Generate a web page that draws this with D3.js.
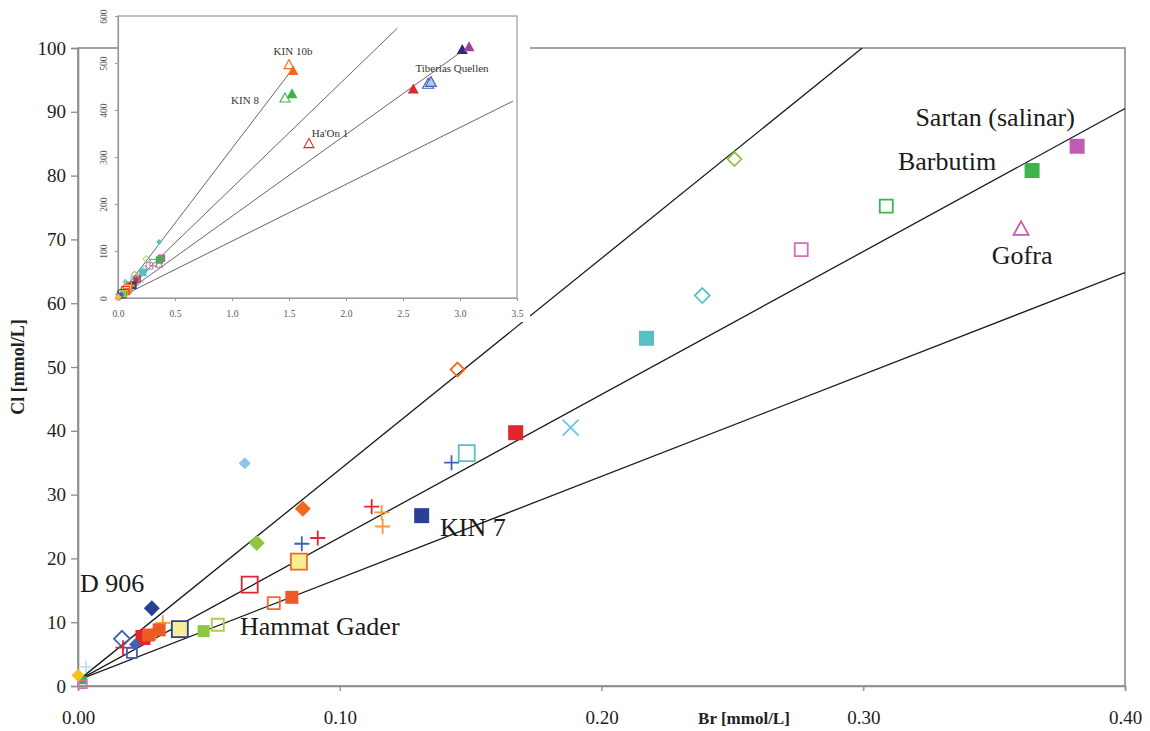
<!DOCTYPE html>
<html>
<head>
<meta charset="utf-8">
<script src="https://cdn.jsdelivr.net/npm/d3@7"></script>
<style>
  html, body { margin: 0; padding: 0; background: #fff; }
  svg { display: block; }
</style>
</head>
<body>
<svg id="chart" width="1150" height="731"></svg>
<script>
// ---------------- DATA (Br, Cl in mmol/L) ----------------
// main plot series
const ygOpenDiamond   = [[0.2508, 82.6]];
const orOpenDiamond   = [[0.145, 49.6]];
const lbDiamond       = [[0.0637, 34.9]];
const orDiamond       = [[0.0859, 27.8]];
const ygDiamond       = [[0.0683, 22.4]];
const d906            = [[0.0282, 12.2]];
const blOpenDiamond   = [[0.0168, 7.4]];
const tlOpenDiamond   = [[0.2385, 61.2]];
const sartan          = [[0.3817, 84.6]];
const barbutim        = [[0.3645, 80.8]];
const grOpenSquare    = [[0.3088, 75.2]];
const gofra           = [[0.3603, 71.6]];
const pkOpenSquare    = [[0.2763, 68.4]];
const tlSquare        = [[0.2172, 54.5]];
const lbCross         = [[0.1882, 40.5]];
const rdSquare        = [[0.1672, 39.7], [0.0248, 7.6]];
const tlOpenSquare    = [[0.1485, 36.5]];
const blPlus          = [[0.1427, 35.0], [0.0855, 22.3]];
const kin7            = [[0.1313, 26.7]];
const rdPlus          = [[0.1122, 28.1], [0.0916, 23.2], [0.0172, 6.0]];
const orPlus          = [[0.116, 27.2], [0.1164, 25.0], [0.0324, 9.9], [0.0295, 8.4]];
const yOrSquare       = [[0.0844, 19.5]];
const rdOpenSquare    = [[0.0656, 15.9]];
const orOpenSquare    = [[0.0748, 13.0]];
const orSquare        = [[0.0817, 13.9], [0.027, 8.0], [0.031, 8.8]];
const yBlSquare       = [[0.0389, 8.9]];
const hammatGader     = [[0.048, 8.6]];
const ygOpenSquare    = [[0.0534, 9.6]];
const blOpenSqSmall   = [[0.0206, 5.2]];
const blDiamondSmall  = [[0.0218, 6.5]];
const goldDiamond     = [[0.0, 1.7]];
const grSmallSquare   = [[0.002, 0.9]];
const pkOpenSmall     = [[0.0018, 0.3]];
const palePlus        = [[0.003, 3.0]];

// inset-only series
const kin10bOpen      = [[1.50, 496]];
const kin10b          = [[1.535, 483]];
const kin8Open        = [[1.465, 425]];
const kin8            = [[1.526, 434]];
const haOn1           = [[1.675, 328]];
const rdTriangle      = [[2.59, 444]];
const tiberiasOpen    = [[2.72, 455]];
const tiberiasLight   = [[2.745, 459]];
const navyTriangle    = [[3.02, 528]];
const purpleTriangle  = [[3.08, 534]];
const tlDiamondInset  = [[0.36, 119]];

// reference lines (end points)
const mainLines  = [[[0.0005, 1.0], [0.2996, 100]], [[0.0005, 1.0], [0.40, 90.5]], [[0.0005, 1.0], [0.40, 64.8]]];
const insetLines = [[[0, 0], [1.53, 487]], [[0, 0], [2.45, 574]], [[0, 0], [3.03, 527]], [[0, 0], [3.465, 419]]];

// ticks
const mainXTicks  = [0, 0.1, 0.2, 0.3, 0.4];
const mainYTicks  = [0, 10, 20, 30, 40, 50, 60, 70, 80, 90, 100];
const insetXTicks = [0, 0.5, 1.0, 1.5, 2.0, 2.5, 3.0, 3.5];
const insetYTicks = [0, 100, 200, 300, 400, 500, 600];

// annotations
const mainLabels = [
  { text: "Sartan (salinar)", br: 0.3504, cl: 89.2, anchor: "middle" },
  { text: "Barbutim",         br: 0.332,  cl: 82.3, anchor: "middle" },
  { text: "Gofra",            br: 0.3607, cl: 67.5, anchor: "middle" },
  { text: "KIN 7",            br: 0.1383, cl: 25.0, anchor: "start" },
  { text: "D 906",            br: 0.0008, cl: 16.2, anchor: "start" },
  { text: "Hammat Gader",     br: 0.0619, cl: 9.4,  anchor: "start" }
];
const insetLabels = [
  { text: "KIN 10b",          br: 1.535, cl: 525 },
  { text: "KIN 8",            br: 1.114, cl: 421 },
  { text: "Ha'On 1",          br: 1.86,  cl: 351 },
  { text: "Tiberias Quellen", br: 2.93,  cl: 489 }
];

// ---------------- STYLES ----------------
const C = {
  yg: "#8dc63f", ygl: "#a9cf4a", or: "#f26a22", orl: "#f59a3c", lb: "#8cc4ea", db: "#2b3f93",
  bl: "#3d63b5", tl: "#56c0c6", mg: "#c25cb0", pk: "#d06fbc", gr: "#3db54a", rd: "#e3262d",
  yl: "#f7ee97", gold: "#f6c31c", pale: "#b9dff2", navy: "#2b2a7a", pur: "#a2419a"
};
const mainSeries = [
  { d: ygOpenDiamond,  s: "diamond",  c: C.yg,  f: false, z: 14 },
  { d: orOpenDiamond,  s: "diamond",  c: C.or,  f: false, z: 14 },
  { d: lbDiamond,      s: "diamond",  c: C.lb,  f: true,  z: 12 },
  { d: orDiamond,      s: "diamond",  c: C.or,  f: true,  z: 16 },
  { d: ygDiamond,      s: "diamond",  c: C.yg,  f: true,  z: 16 },
  { d: d906,           s: "diamond",  c: C.db,  f: true,  z: 16 },
  { d: blOpenDiamond,  s: "diamond",  c: C.bl,  f: false, z: 16 },
  { d: tlOpenDiamond,  s: "diamond",  c: C.tl,  f: false, z: 15 },
  { d: sartan,         s: "square",   c: C.mg,  f: true,  z: 15 },
  { d: barbutim,       s: "square",   c: C.gr,  f: true,  z: 15 },
  { d: grOpenSquare,   s: "square",   c: C.gr,  f: false, z: 13 },
  { d: gofra,          s: "triangle", c: C.mg,  f: false, z: 15 },
  { d: pkOpenSquare,   s: "square",   c: C.pk,  f: false, z: 13 },
  { d: tlSquare,       s: "square",   c: C.tl,  f: true,  z: 15 },
  { d: lbCross,        s: "cross",    c: "#6fc3e8", f: false, z: 16 },
  { d: rdSquare,       s: "square",   c: C.rd,  f: true,  z: 15 },
  { d: tlOpenSquare,   s: "square",   c: C.tl,  f: false, z: 16 },
  { d: blPlus,         s: "plus",     c: C.bl,  f: false, z: 15 },
  { d: kin7,           s: "square",   c: C.db,  f: true,  z: 15 },
  { d: rdPlus,         s: "plus",     c: C.rd,  f: false, z: 15 },
  { d: orPlus,         s: "plus",     c: C.orl, f: false, z: 15 },
  { d: yOrSquare,      s: "square",   c: C.or,  f: C.yl,  z: 16 },
  { d: rdOpenSquare,   s: "square",   c: C.rd,  f: false, z: 16 },
  { d: orOpenSquare,   s: "square",   c: C.or,  f: false, z: 12 },
  { d: orSquare,       s: "square",   c: "#ee5a26", f: true, z: 13 },
  { d: yBlSquare,      s: "square",   c: C.db,  f: C.yl,  z: 16 },
  { d: hammatGader,    s: "square",   c: C.yg,  f: true,  z: 12 },
  { d: ygOpenSquare,   s: "square",   c: C.ygl, f: false, z: 12 },
  { d: blOpenSqSmall,  s: "square",   c: C.bl,  f: false, z: 10 },
  { d: blDiamondSmall, s: "diamond",  c: C.bl,  f: true,  z: 12 },
  { d: palePlus,       s: "plus",     c: C.pale, f: false, z: 12 },
  { d: grSmallSquare,  s: "square",   c: C.gr,  f: true,  z: 8 },
  { d: pkOpenSmall,    s: "square",   c: C.pk,  f: false, z: 8 },
  { d: goldDiamond,    s: "diamond",  c: C.gold, f: true, z: 13 }
];
const insetSeries = [
  { d: tlDiamondInset, s: "diamond",  c: C.tl,  f: true,  z: 6 },
  { d: kin10bOpen,     s: "triangle", c: C.or,  f: false, z: 10 },
  { d: kin10b,         s: "triangle", c: C.or,  f: true,  z: 11 },
  { d: kin8Open,       s: "triangle", c: C.gr,  f: false, z: 10 },
  { d: kin8,           s: "triangle", c: C.gr,  f: true,  z: 11 },
  { d: haOn1,          s: "triangle", c: C.rd,  f: false, z: 10 },
  { d: rdTriangle,     s: "triangle", c: C.rd,  f: true,  z: 11 },
  { d: tiberiasOpen,   s: "triangle", c: C.bl,  f: false, z: 11 },
  { d: tiberiasLight,  s: "triangle", c: C.bl,  f: "#a9c8ec", z: 11 },
  { d: navyTriangle,   s: "triangle", c: C.navy, f: true, z: 11 },
  { d: purpleTriangle, s: "triangle", c: C.pur, f: true,  z: 11 }
];

// ---------------- DRAW ----------------
const svg = d3.select("#chart");
const serif = "'Liberation Serif', 'Times New Roman', serif";
const axisGray = "#8d8d8d";

const x = d3.scaleLinear().domain([0, 0.4]).range([78, 1125]);
const y = d3.scaleLinear().domain([0, 100]).range([686, 48]);

function shapePath(s, cx, cy, z) {
  const h = z / 2;
  switch (s) {
    case "square":   return `M${cx-h},${cy-h}H${cx+h}V${cy+h}H${cx-h}Z`;
    case "diamond":  return `M${cx},${cy-h}L${cx+h},${cy}L${cx},${cy+h}L${cx-h},${cy}Z`;
    case "triangle": return `M${cx},${cy-h*1.05}L${cx+h},${cy+h*0.75}L${cx-h},${cy+h*0.75}Z`;
    case "plus":     return `M${cx-h},${cy}H${cx+h}M${cx},${cy-h}V${cy+h}`;
    case "cross":    return `M${cx-h},${cy-h}L${cx+h},${cy+h}M${cx+h},${cy-h}L${cx-h},${cy+h}`;
  }
}

function drawSeries(g, list, xs, ys, scale, sw) {
  list.forEach(ser => {
    const line = ser.s === "plus" || ser.s === "cross";
    g.selectAll(null).data(ser.d).enter().append("path")
      .attr("d", p => shapePath(ser.s, xs(p[0]), ys(p[1]), ser.z * scale))
      .attr("fill", line ? "none" : (ser.f === true ? ser.c : (ser.f ? ser.f : "none")))
      .attr("stroke", ser.f === true ? (line ? ser.c : "none") : ser.c)
      .attr("stroke-width", sw);
  });
}

// main frame
const main = svg.append("g");
main.append("rect")
  .attr("x", x(0)).attr("y", y(100))
  .attr("width", x(0.4) - x(0)).attr("height", y(0) - y(100))
  .attr("fill", "none").attr("stroke", axisGray).attr("stroke-width", 1.6);

// axes
const yAxis = d3.axisLeft(y).tickValues(mainYTicks).tickSize(7).tickPadding(5).tickFormat(d3.format("d"));
const gy = main.append("g").attr("transform", `translate(${x(0)},0)`).call(yAxis);
const xAxis = d3.axisBottom(x).tickValues(mainXTicks).tickSize(5).tickPadding(20).tickFormat(d3.format(".2f"));
const gx = main.append("g").attr("transform", `translate(0,${y(0)})`).call(xAxis);
[gx, gy].forEach(g => {
  g.select(".domain").attr("stroke", axisGray).attr("stroke-width", 1.6);
  g.selectAll(".tick line").attr("stroke", axisGray).attr("stroke-width", 1.3);
  g.selectAll(".tick text").attr("font-family", serif).attr("font-size", 19).attr("fill", "#222");
});

// axis titles
main.append("text").attr("x", 744).attr("y", 724).attr("text-anchor", "middle")
  .attr("font-family", serif).attr("font-weight", "bold").attr("font-size", 17).attr("fill", "#222")
  .text("Br [mmol/L]");
main.append("text").attr("transform", "translate(24,367) rotate(-90)").attr("text-anchor", "middle")
  .attr("font-family", serif).attr("font-weight", "bold").attr("font-size", 18).attr("fill", "#222")
  .text("Cl [mmol/L]");

// clip for main plot area
svg.append("clipPath").attr("id", "mclip").append("rect")
  .attr("x", x(0)).attr("y", y(100)).attr("width", x(0.4) - x(0)).attr("height", y(0) - y(100));

const mainLineGen = d3.line().x(d => x(d[0])).y(d => y(d[1]));
main.append("g").attr("clip-path", "url(#mclip)").selectAll("path").data(mainLines).enter()
  .append("path").attr("d", mainLineGen).attr("fill", "none").attr("stroke", "#1a1a1a").attr("stroke-width", 1.3);

drawSeries(main.append("g"), mainSeries, x, y, 1, 1.8);

main.selectAll(".mlab").data(mainLabels).enter().append("text")
  .attr("x", d => x(d.br)).attr("y", d => y(d.cl)).attr("dy", "0.35em")
  .attr("text-anchor", d => d.anchor)
  .attr("font-family", serif).attr("font-size", 26).attr("fill", "#1a1a1a")
  .text(d => d.text);

// ---------------- INSET ----------------
const xi = d3.scaleLinear().domain([0, 3.5]).range([118, 517]);
const yi = d3.scaleLinear().domain([0, 600]).range([298, 16]);
const inset = svg.append("g");
inset.append("rect").attr("x", 119).attr("y", 0).attr("width", 411).attr("height", 322).attr("fill", "#fff");
inset.append("rect").attr("x", xi(0)).attr("y", yi(600))
  .attr("width", xi(3.5) - xi(0)).attr("height", yi(0) - yi(600))
  .attr("fill", "#fff").attr("stroke", "#9a9a9a").attr("stroke-width", 1.2);

const ixAxis = d3.axisBottom(xi).tickValues(insetXTicks).tickSize(3).tickPadding(9).tickFormat(d3.format(".1f"));
const gix = inset.append("g").attr("transform", `translate(0,${yi(0)})`).call(ixAxis);
const iyAxis = d3.axisLeft(yi).tickValues(insetYTicks).tickSize(3).tickPadding(0).tickFormat(d3.format("d"));
const giy = inset.append("g").attr("transform", `translate(${xi(0)},0)`).call(iyAxis);
[gix, giy].forEach(g => {
  g.select(".domain").attr("stroke", "#9a9a9a").attr("stroke-width", 1.2);
  g.selectAll(".tick line").attr("stroke", "#9a9a9a");
  g.selectAll(".tick text").attr("font-family", serif).attr("font-size", 9.5).attr("fill", "#555");
});
giy.selectAll(".tick text")
  .attr("x", null).attr("dy", null).attr("text-anchor", "middle")
  .attr("transform", "translate(-14,0) rotate(-90)").attr("dominant-baseline", "central");

const insetLineGen = d3.line().x(d => xi(d[0])).y(d => yi(d[1]));
inset.append("g").selectAll("path").data(insetLines).enter().append("path")
  .attr("d", insetLineGen).attr("fill", "none").attr("stroke", "#666").attr("stroke-width", 1);

drawSeries(inset.append("g"), mainSeries, xi, yi, 0.5, 1);
drawSeries(inset.append("g"), insetSeries, xi, yi, 1, 1.1);

inset.selectAll(".ilab").data(insetLabels).enter().append("text")
  .attr("x", d => xi(d.br)).attr("y", d => yi(d.cl)).attr("dy", "0.35em")
  .attr("text-anchor", "middle")
  .attr("font-family", serif).attr("font-size", 11).attr("fill", "#333")
  .text(d => d.text);
</script>
</body>
</html>
